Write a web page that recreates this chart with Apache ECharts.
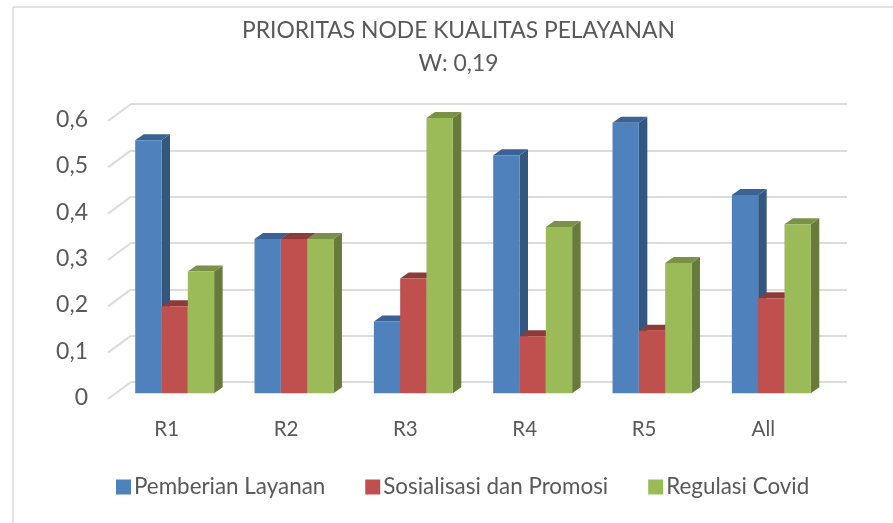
<!DOCTYPE html>
<html>
<head>
<meta charset="utf-8">
<title>Prioritas Node Kualitas Pelayanan</title>
<script src="https://cdn.jsdelivr.net/npm/echarts@6/dist/echarts.min.js"></script>
<style>
    html, body { margin: 0; padding: 0; background: #fff; }
    /* the source picture is a slightly soft screenshot */
    #chart { width: 893px; height: 523px; filter: blur(0.4px); }
</style>
</head>
<body>
<div id="chart"></div>
<script>
    const categories = ['R1', 'R2', 'R3', 'R4', 'R5', 'All'];
    const pemberianLayanan = [0.546, 0.333, 0.155, 0.514, 0.584, 0.428];
    const sosialisasiPromosi = [0.188, 0.333, 0.248, 0.123, 0.135, 0.205];
    const regulasiCovid = [0.263, 0.333, 0.594, 0.359, 0.281, 0.365];
    const wallTicks = [0, 0.1, 0.2, 0.3, 0.4, 0.5, 0.6];

    const FONT = 'Lato';
    const TEXT = '#595959';
    const GRID_LINE = '#dcdcdc';

    // the grid is the back wall, bars stand in front of it
    const BAR_DX = -16, BAR_DY = 11.3;
    const DEPTH_DX = 8.5, DEPTH_DY = 6;

    const barSeries = (name, values, index, front, top, side) => ({
        name,
        type: 'custom',
        z: 3 + index,
        itemStyle: { color: front },
        data: values.map((v, i) => [i, v]),
        renderItem(params, api) {
            const zero = api.coord([api.value(0), 0]);
            const peak = api.coord([api.value(0), api.value(1)]);
            const band = api.size([1, 0])[0];
            const w = band * 0.2205;
            const x = zero[0] + BAR_DX - w * 1.5 + w * index;
            const y0 = zero[1] + BAR_DY;
            const y1 = peak[1] + BAR_DY;
            const poly = (points, fill) => ({
                type: 'polygon',
                shape: { points },
                style: { fill }
            });
            return {
                type: 'group',
                children: [
                    poly([[x + w, y0], [x + w + DEPTH_DX, y0 - DEPTH_DY], [x + w + DEPTH_DX, y1 - DEPTH_DY], [x + w, y1]], side),
                    poly([[x, y1], [x + DEPTH_DX, y1 - DEPTH_DY], [x + w + DEPTH_DX, y1 - DEPTH_DY], [x + w, y1]], top),
                    { type: 'rect', shape: { x, y: y1, width: w, height: y0 - y1 }, style: { fill: front } }
                ]
            };
        }
    });

    const chart = echarts.init(document.getElementById('chart'));
    chart.setOption({
        animation: false,
        graphic: [
            // chart frame, cut off on the right and bottom
            { type: 'line', shape: { x1: 13, y1: 7, x2: 893, y2: 7 }, style: { stroke: '#d9d9d9', lineWidth: 1.5 } },
            { type: 'line', shape: { x1: 13, y1: 7, x2: 13, y2: 523 }, style: { stroke: '#d9d9d9', lineWidth: 1.5 } }
        ],
        title: {
            text: 'PRIORITAS NODE KUALITAS PELAYANAN\nW: 0,19',
            left: 453.5,
            top: 9,
            textAlign: 'center',
            textStyle: {
                fontFamily: FONT,
                fontSize: 22.85,
                fontWeight: 'normal',
                color: TEXT,
                lineHeight: 33
            }
        },
        legend: {
            data: ['Pemberian Layanan', 'Sosialisasi dan Promosi', 'Regulasi Covid'],
            icon: 'rect',
            left: 111,
            top: 471,
            itemWidth: 15,
            itemHeight: 15,
            itemGap: 40,
            textStyle: { fontFamily: FONT, fontSize: 22.4, color: TEXT, padding: [0, 0, 0, -2] }
        },
        grid: { left: 131, right: 46, top: 104, bottom: 141 },
        xAxis: {
            type: 'category',
            data: categories,
            axisLine: { show: false },
            axisTick: { show: false },
            axisLabel: {
                fontFamily: FONT,
                fontSize: 20.5,
                color: TEXT,
                margin: 37,
                padding: [0, 48, 0, 0]
            }
        },
        yAxis: {
            type: 'value',
            min: 0,
            max: 0.6,
            interval: 0.1,
            axisLine: { show: false },
            axisTick: { show: false },
            splitLine: { lineStyle: { color: GRID_LINE, width: 2 } },
            axisLabel: {
                fontFamily: FONT,
                fontSize: 23,
                color: TEXT,
                margin: 43,
                verticalAlign: 'top',
                lineHeight: 31,
                formatter: v => String(v).replace('.', ',')
            }
        },
        series: [
            {
                // slanted ticks of the side wall
                type: 'custom',
                silent: true,
                z: 2,
                data: wallTicks.map(v => [0, v]),
                renderItem(params, api) {
                    const p = api.coord([0, api.value(1)]);
                    const x = params.coordSys.x;
                    return {
                        type: 'line',
                        shape: { x1: x, y1: p[1], x2: x - 23, y2: p[1] + 17 },
                        style: { stroke: GRID_LINE, lineWidth: 2 }
                    };
                }
            },
            barSeries('Pemberian Layanan', pemberianLayanan, 0, '#4f81bd', '#3a6294', '#34577f'),
            barSeries('Sosialisasi dan Promosi', sosialisasiPromosi, 1, '#c0504d', '#8e3a38', '#8e3a38'),
            barSeries('Regulasi Covid', regulasiCovid, 2, '#9bbb59', '#7a9147', '#677b3a')
        ]
    });
</script>
</body>
</html>
